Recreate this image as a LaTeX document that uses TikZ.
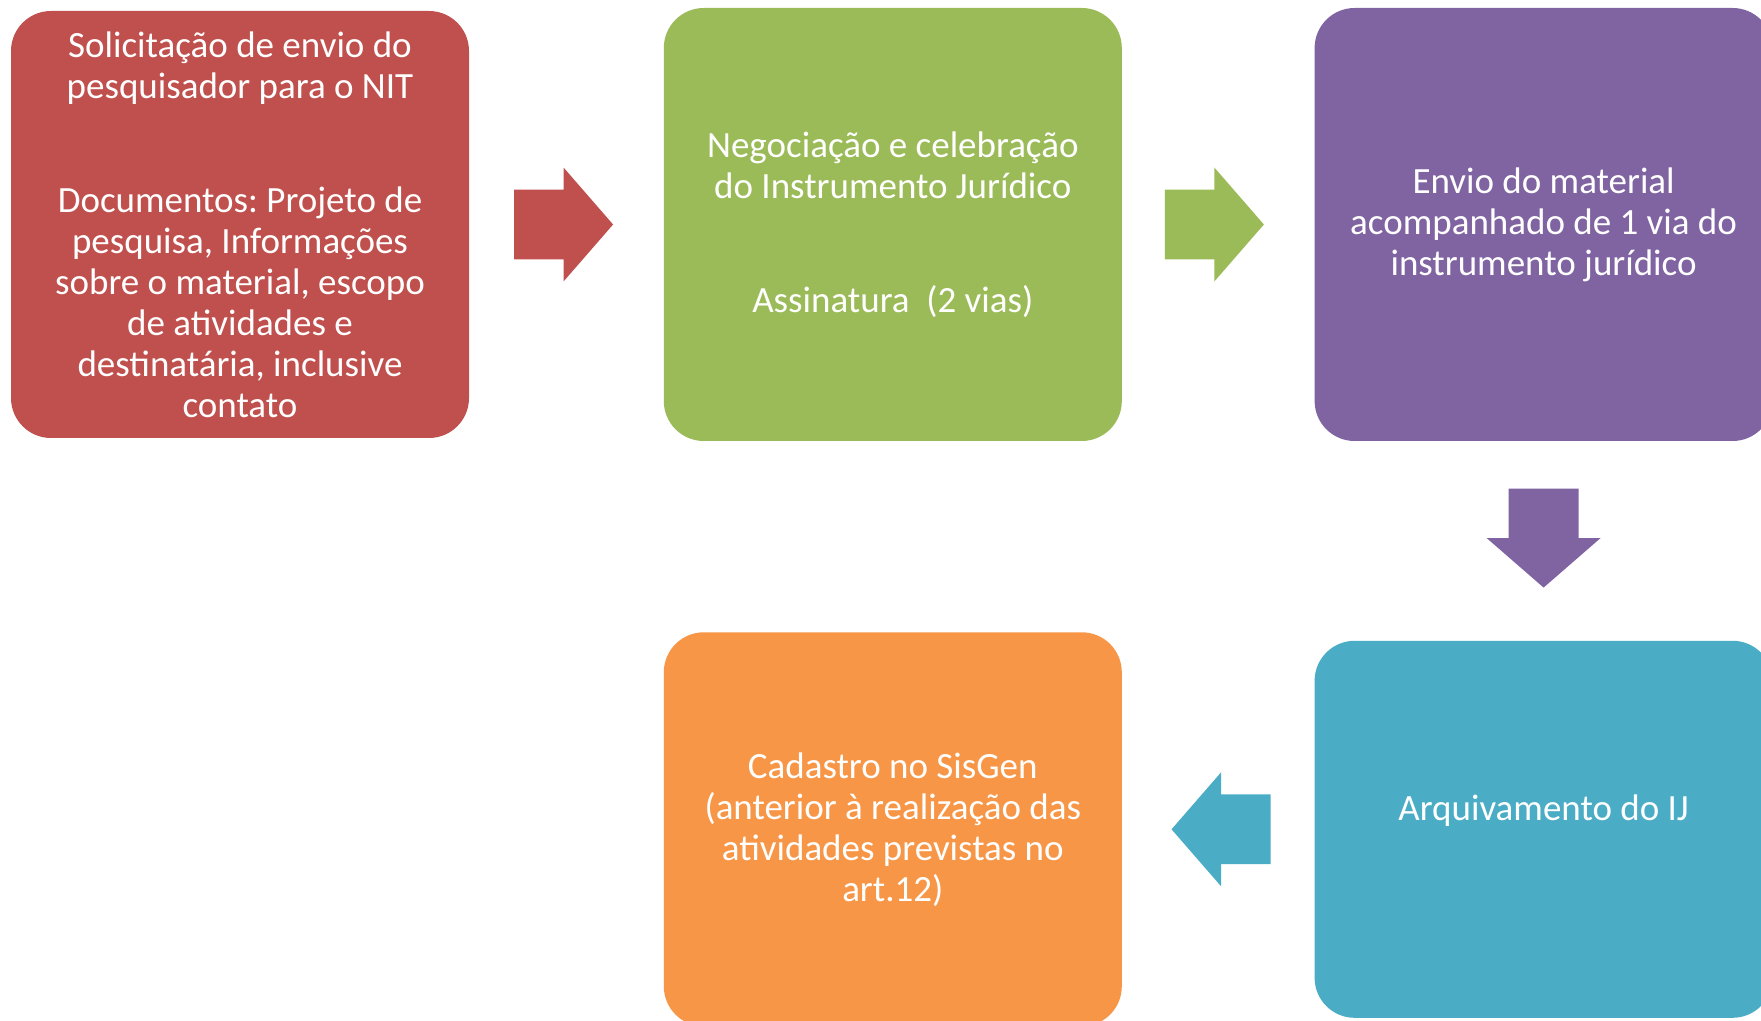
\documentclass[tikz,border=0pt]{standalone}
\usepackage{fontspec}
\setmainfont{Carlito}
\frenchspacing
\usetikzlibrary{calc}
\usetikzlibrary{positioning}
\usetikzlibrary{shapes.arrows}
\definecolor{boxred}{HTML}{C0504D}
\definecolor{boxgreen}{HTML}{9BBB59}
\definecolor{boxpurple}{HTML}{8064A2}
\definecolor{boxteal}{HTML}{4BACC6}
\definecolor{boxorange}{HTML}{F79646}
\tikzset{
  stepbox/.style={rectangle, rounded corners=20pt, minimum width=229pt,
    align=center, inner sep=0pt, text=white, font=\fontsize{18.5}{20.5}\selectfont},
  fatarrow/.style={single arrow, single arrow head extend=11pt, single arrow tip angle=98,
    inner xsep=0pt, inner ysep=17.25pt, text height=0pt, text depth=0pt, minimum height=49.5pt}
}

\begin{document}
\begin{tikzpicture}[x=0.5pt,y=-0.5pt]
\useasboundingbox (0,0) rectangle (1761,1021);
% upper row
\node[stepbox, fill=boxred, minimum height=213.5pt] (sol) at (240,224.5)
  {Solicitação de envio do\\ pesquisador para o NIT\\[36.5pt]
   Documentos: Projeto de\\ pesquisa, Informações\\ sobre o material, escopo\\
   de atividades e\\ destinatária, inclusive\\ contato};
\node[stepbox, fill=boxgreen, minimum height=216.5pt, right=97pt of sol] (neg)
  {Negociação e celebração\\ do Instrumento Jurídico\\[36.5pt] Assinatura\ \ (2 vias)};
\node[stepbox, fill=boxpurple, minimum height=216.5pt, right=96pt of neg] (env)
  {Envio do material\\ acompanhado de 1 via do\\ instrumento jurídico};
% lower row
\node[stepbox, fill=boxteal, minimum height=188.5pt, text depth=22pt, below=99.5pt of env] (arq)
  {Arquivamento do IJ};
\node[stepbox, fill=boxorange, minimum height=197pt, left=96pt of arq] (cad)
  {Cadastro no SisGen\\ (anterior à realização das\\ atividades previstas no\\ art.12)};
% block arrows between the steps
\node[fatarrow, fill=boxred] (a1) at ($(sol.east)!0.5!(neg.west)+(-18,0)$) {};
\node[fatarrow, fill=boxgreen] (a2) at ($(neg.east)!0.5!(env.west)+(-19,0)$) {};
\node[fatarrow, fill=boxpurple, rotate=-90] (a3) at ($(env.south)!0.5!(arq.north)+(0,-18)$) {};
\node[fatarrow, fill=boxteal, rotate=180] (a4) at ($(cad.east)!0.5!(arq.west)+(18,0)$) {};
\end{tikzpicture}
\end{document}
